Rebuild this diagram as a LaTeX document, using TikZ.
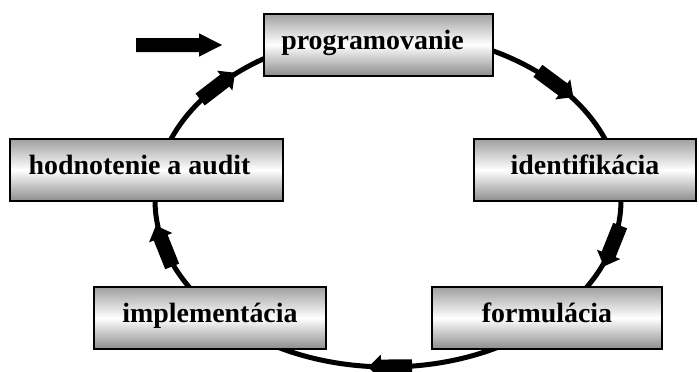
\documentclass[tikz,border=0pt]{standalone}
\usepackage{fontspec}
\setmainfont{Liberation Serif}
\begin{document}
\begin{tikzpicture}[x=1pt,y=-1pt,
  stage/.style={draw=black, line width=2pt,
    top color=gray!75, bottom color=gray!90, middle color=white,
    inner sep=0pt, minimum height=62pt, text height=19pt, text depth=10pt,
    font=\fontsize{27.9}{30}\selectfont\bfseries},
  cycleline/.style={line width=5pt},
  flowmark/.style={fill=black}]
\useasboundingbox (0,0) rectangle (699,372);

% the cycle path
\draw[cycleline] (388,200) ellipse [x radius=233pt, y radius=167pt];

% direction marks along the cycle (clockwise)
\foreach \t in {223,316,16,89.5,164}{
  \pgfmathsetmacro\ang{atan2(-167*cos(\t),-233*sin(\t))}
  \fill[flowmark, shift={({388+233*cos(\t)},{200+167*sin(\t)})}, rotate=\ang]
    (-22,-7.5) -- (9,-7.5) -- (9,-12.5) -- (22,0) -- (9,12.5) -- (9,7.5) -- (-22,7.5) -- cycle;
}

% stages
\node[stage, minimum width=229pt] (prog)  at (378.5,44.5) {programovanie\hspace*{12pt}};
\node[stage, minimum width=273pt] (eval)  at (146.5,170)  {hodnotenie a audit\hspace*{14pt}};
\node[stage, minimum width=222pt] (ident) at (585,170)    {identifikácia};
\node[stage, minimum width=232pt] (impl)  at (210,318)    {implementácia};
\node[stage, minimum width=230pt] (form)  at (547,318)    {formulácia};

% entry arrow
\fill (136,38) -- (199,38) -- (199,33.3) -- (222,45) -- (199,56.7) -- (199,52) -- (136,52) -- cycle;
\end{tikzpicture}
\end{document}
